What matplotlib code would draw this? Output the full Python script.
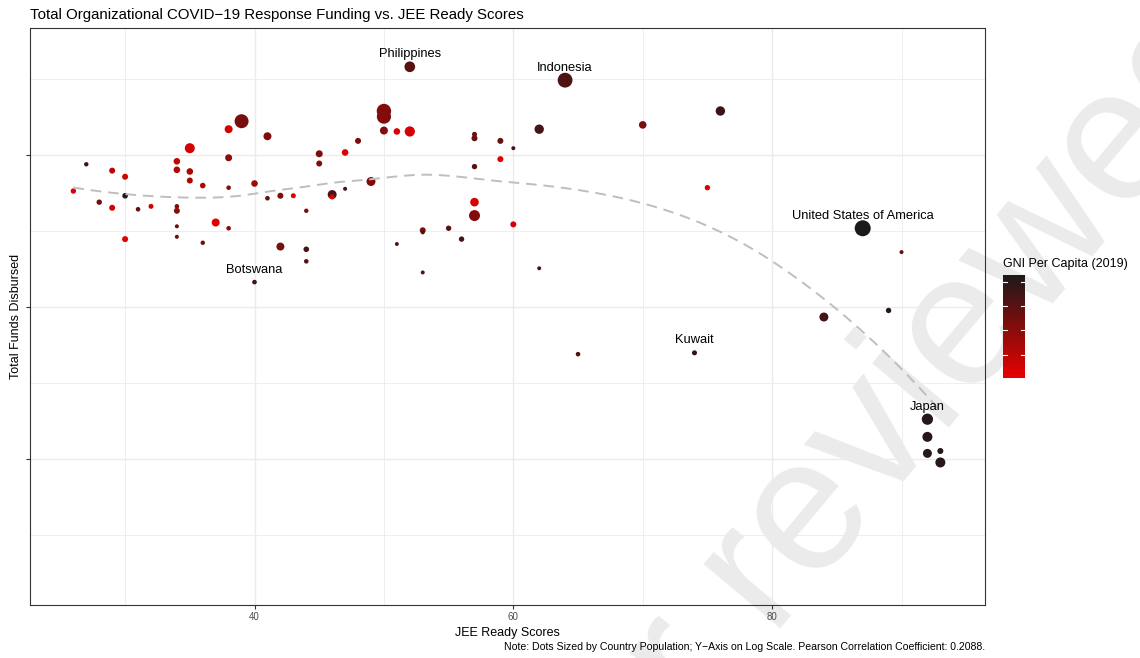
import numpy as np
import matplotlib
matplotlib.use("Agg")
import matplotlib.pyplot as plt
from matplotlib.colors import LinearSegmentedColormap, Normalize
from matplotlib.cm import ScalarMappable
from matplotlib.ticker import FixedLocator, NullFormatter

plt.rcParams['font.family'] = ['Liberation Sans', 'DejaVu Sans']

# JEE ready score per country
jee = [26, 27, 28, 29, 29, 30, 30, 30, 31, 32,
       34, 34, 34, 34, 34, 34, 35, 35, 35, 36,
       36, 37, 38, 38, 38, 38, 39, 40, 40, 41,
       41, 42, 42, 43, 44, 44, 44, 45, 45, 46,
       46, 47, 47, 48, 49, 50, 50, 50, 51, 51,
       52, 52, 53, 53, 53, 55, 56, 57, 57, 57,
       57, 57, 59, 59, 60, 60, 62, 62, 64, 65,
       70, 75, 76, 74, 84, 87, 89, 90, 92, 92,
       92, 93, 93]

# total funds disbursed (USD)
funds = [5.8e7, 8.7e7, 4.9e7, 7.9e7, 4.5e7, 7.2e7, 5.4e7, 2.8e7, 4.4e7, 4.6e7,
         9.1e7, 8.0e7, 4.6e7, 4.3e7, 3.4e7, 2.9e7, 1.11e8, 7.8e7, 6.8e7, 6.3e7,
         2.65e7, 3.6e7, 1.48e8, 9.6e7, 6.1e7, 3.3e7, 1.67e8, 6.5e7, 1.46e7, 1.33e8,
         5.2e7, 5.4e7, 2.5e7, 5.4e7, 4.3e7, 2.4e7, 2.0e7, 1.02e8, 8.8e7, 5.5e7,
         5.3e7, 1.04e8, 6.0e7, 1.24e8, 6.7e7, 1.95e8, 1.79e8, 1.45e8, 1.43e8, 2.6e7,
         3.81e8, 1.43e8, 3.2e7, 3.1e7, 1.69e7, 3.3e7, 2.8e7, 1.37e8, 1.29e8, 8.4e7,
         4.9e7, 4.0e7, 1.24e8, 9.4e7, 1.11e8, 3.5e7, 1.48e8, 1.8e7, 3.11e8, 4.9e6,
         1.58e8, 6.1e7, 1.95e8, 5.0e6, 8.6e6, 3.3e7, 9.5e6, 2.3e7, 1.83e6, 1.40e6,
         1.09e6, 1.13e6, 9.5e5]

# GNI per capita 2019 (thousand USD)
gni = [4.9, 73.2, 51.8, 17.7, 9.1, 13.4, 86.0, 4.9, 56.1, 13.4,
       17.7, 22.0, 43.3, 39.0, 51.8, 51.8, 9.1, 26.2, 26.2, 26.2,
       51.8, 4.9, 9.1, 39.0, 39.0, 39.0, 47.6, 30.5, 68.9, 43.3,
       56.1, 43.3, 47.6, 4.9, 47.6, 68.9, 60.4, 47.6, 43.3, 64.7,
       4.9, 4.9, 68.9, 47.6, 43.3, 43.3, 43.3, 43.3, 4.9, 60.4,
       60.4, 9.1, 47.6, 68.9, 60.4, 60.4, 68.9, 51.8, 51.8, 60.4,
       9.1, 43.3, 51.8, 4.9, 73.2, 9.1, 68.9, 64.7, 64.7, 64.7,
       47.6, 9.1, 73.2, 77.5, 68.9, 86.0, 81.7, 51.8, 81.7, 81.7,
       81.7, 81.7, 81.7]

# population (millions)
pop = [7.0, 1.4, 7.0, 12.4, 12.4, 12.4, 8.6, 12.4, 2.1, 4.2,
       19.3, 19.3, 2.1, 12.4, 0.4, 0.4, 88.0, 19.3, 12.4, 8.6,
       1.4, 41.6, 41.6, 24.6, 2.1, 2.1, 232.0, 19.3, 2.3, 41.6,
       2.1, 12.4, 41.6, 4.2, 1.4, 8.6, 2.1, 24.6, 12.4, 62.0,
       4.2, 19.3, 0.4, 12.4, 62.0, 250.0, 240.0, 41.6, 19.3, 0.3,
       108.0, 95.0, 12.4, 0.3, 0.3, 7.0, 7.0, 4.2, 12.4, 7.0,
       53.7, 117.0, 12.4, 12.4, 0.3, 12.4, 72.0, 0.3, 270.0, 2.1,
       34.0, 7.0, 72.0, 4.3, 62.0, 330.0, 7.0, 0.4, 126.0, 88.0,
       62.0, 12.4, 88.0]

labels = {50: "Philippines", 68: "Indonesia", 75: "United States of America",
          28: "Botswana", 73: "Kuwait", 78: "Japan"}

x = np.array(jee, dtype=float)
y = np.array(funds)
g = np.array(gni)
p = np.array(pop)


# local quadratic fit (tricube weights), value and slope at v
def local_fit(xv, yv, v, q):
    d = np.abs(xv - v)
    h = np.sort(d)[q - 1]
    w = np.clip(1 - (d / h) ** 3, 0, None) ** 3
    X = np.column_stack([np.ones(len(xv)), xv - v, (xv - v) ** 2])
    sw = np.sqrt(w)
    beta = np.linalg.lstsq(X * sw[:, None], yv * sw, rcond=None)[0]
    return beta[0], beta[1]


# loess with kd-tree vertices + cubic Hermite interpolation (R default surface)
def loess(xv, yv, grid, span=0.75, cell=0.2):
    n = len(xv)
    q = int(np.floor(n * span))
    fc = int(np.floor(n * span * cell))
    xs = np.sort(xv)
    mu = 0.005 * (xs[-1] - xs[0])
    leaves = []

    def split(l, u, a, b):
        if u - l + 1 <= fc:
            leaves.append((a, b))
            return
        m = (l + u) // 2
        off = 0
        while l <= m + off < u:
            if xs[m + off] == xs[m + off + 1]:
                off = -off
                if off >= 0:
                    off += 1
            else:
                m = m + off
                break
        if xs[m] == a or xs[m] == b:
            leaves.append((a, b))
            return
        t = (xs[m] + xs[m + 1]) / 2
        split(l, m, a, t)
        split(m + 1, u, t, b)

    split(0, n - 1, xs[0] - mu, xs[-1] + mu)
    fits = {}
    for a, b in leaves:
        for v in (a, b):
            if v not in fits:
                fits[v] = local_fit(xv, yv, v, q)
    out = []
    for x0 in grid:
        for a, b in leaves:
            if a <= x0 <= b:
                break
        fa, sa = fits[a]
        fb, sb = fits[b]
        hh = b - a
        t = (x0 - a) / hh
        out.append((2 * t**3 - 3 * t**2 + 1) * fa + (t**3 - 2 * t**2 + t) * hh * sa
                   + (-2 * t**3 + 3 * t**2) * fb + (t**3 - t**2) * hh * sb)
    return np.array(out)


grid = np.linspace(x.min(), x.max(), 80)
smooth = 10 ** loess(x, np.log10(y), grid)

cmap = LinearSegmentedColormap.from_list("gni", ["#e80000", "#1c1919"])
norm = Normalize(vmin=0.6, vmax=86.0)

# marker radius grows with sqrt(population)
r_px = 1.8 + 6.2 * np.sqrt(p / 330.0)
sizes = (2 * r_px * 0.72) ** 2

fig = plt.figure(figsize=(11.4, 6.58), dpi=100)
fig.patch.set_facecolor("white")

# watermark behind everything, mostly running off the canvas
fig.text(482 / 1140, 1 - 984 / 658, "Peer reviewed", fontsize=136, color="#ebebeb",
         rotation=50, rotation_mode="anchor", ha="left", va="baseline",
         zorder=-5)

ax = fig.add_axes([30 / 1140, 1 - 605 / 658, 955 / 1140, 577 / 658])
ax.set_facecolor("none")

ax.set_yscale("log")
ax.set_xlim(22.65, 96.45)
ax.set_ylim(10 ** 5.04, 10 ** 8.836)

ax.set_xticks([40, 60, 80])
ax.xaxis.set_minor_locator(FixedLocator([30, 50, 70, 90]))
ax.set_yticks([1e6, 1e7, 1e8])
ax.yaxis.set_major_formatter(NullFormatter())
ax.yaxis.set_minor_locator(FixedLocator([10 ** 5.5, 10 ** 6.5, 10 ** 7.5, 10 ** 8.5]))
ax.yaxis.set_minor_formatter(NullFormatter())
ax.grid(which="major", color="#ebebeb", linewidth=1.0, zorder=0)
ax.grid(which="minor", color="#ebebeb", linewidth=0.6, zorder=0)
ax.set_axisbelow(True)
ax.tick_params(which="major", length=2.8, width=0.8, color="#333333",
               labelsize=7, labelcolor="#4d4d4d", pad=2)
ax.tick_params(which="minor", length=0)
for s in ax.spines.values():
    s.set_color("#333333")
    s.set_linewidth(0.8)

ax.scatter(x, y, s=sizes, c=g, cmap=cmap, norm=norm, linewidths=0, zorder=3)
ax.plot(grid, smooth, color="#bebebe", linewidth=1.4, linestyle=(0, (5.5, 3.5)), zorder=4)

for i, name in labels.items():
    ax.annotate(name, (x[i], y[i]), xytext=(0, 9), textcoords="offset points",
                ha="center", va="center", fontsize=9.3, color="black", zorder=5)

ax.set_xlabel("JEE Ready Scores", fontsize=9, labelpad=4)
ax.set_ylabel("Total Funds Disbursed", fontsize=9, labelpad=1)
fig.text(30 / 1140, 1 - 15 / 658, "Total Organizational COVID\u221219 Response Funding vs. JEE Ready Scores",
         fontsize=10.8, ha="left", va="center")
fig.text(985 / 1140, 1 - 647 / 658,
         "Note: Dots Sized by Country Population; Y\u2212Axis on Log Scale. Pearson Correlation Coefficient: 0.2088.",
         fontsize=7.6, ha="right", va="center")

# colour bar legend
cax = fig.add_axes([1003 / 1140, 1 - 378 / 658, 22 / 1140, 103 / 658])
cb = fig.colorbar(ScalarMappable(norm=norm, cmap=cmap), cax=cax)
cb.outline.set_visible(False)
cax.set_yticks([])
for b in [20, 40, 60, 80]:
    cax.plot([0, 0.2], [b, b], color="white", linewidth=0.8, transform=cax.get_yaxis_transform())
    cax.plot([0.8, 1.0], [b, b], color="white", linewidth=0.8, transform=cax.get_yaxis_transform())
fig.text(1003 / 1140, 1 - 264 / 658, "GNI Per Capita (2019)", fontsize=9, ha="left", va="center")

fig.savefig("out.png", dpi=100)
